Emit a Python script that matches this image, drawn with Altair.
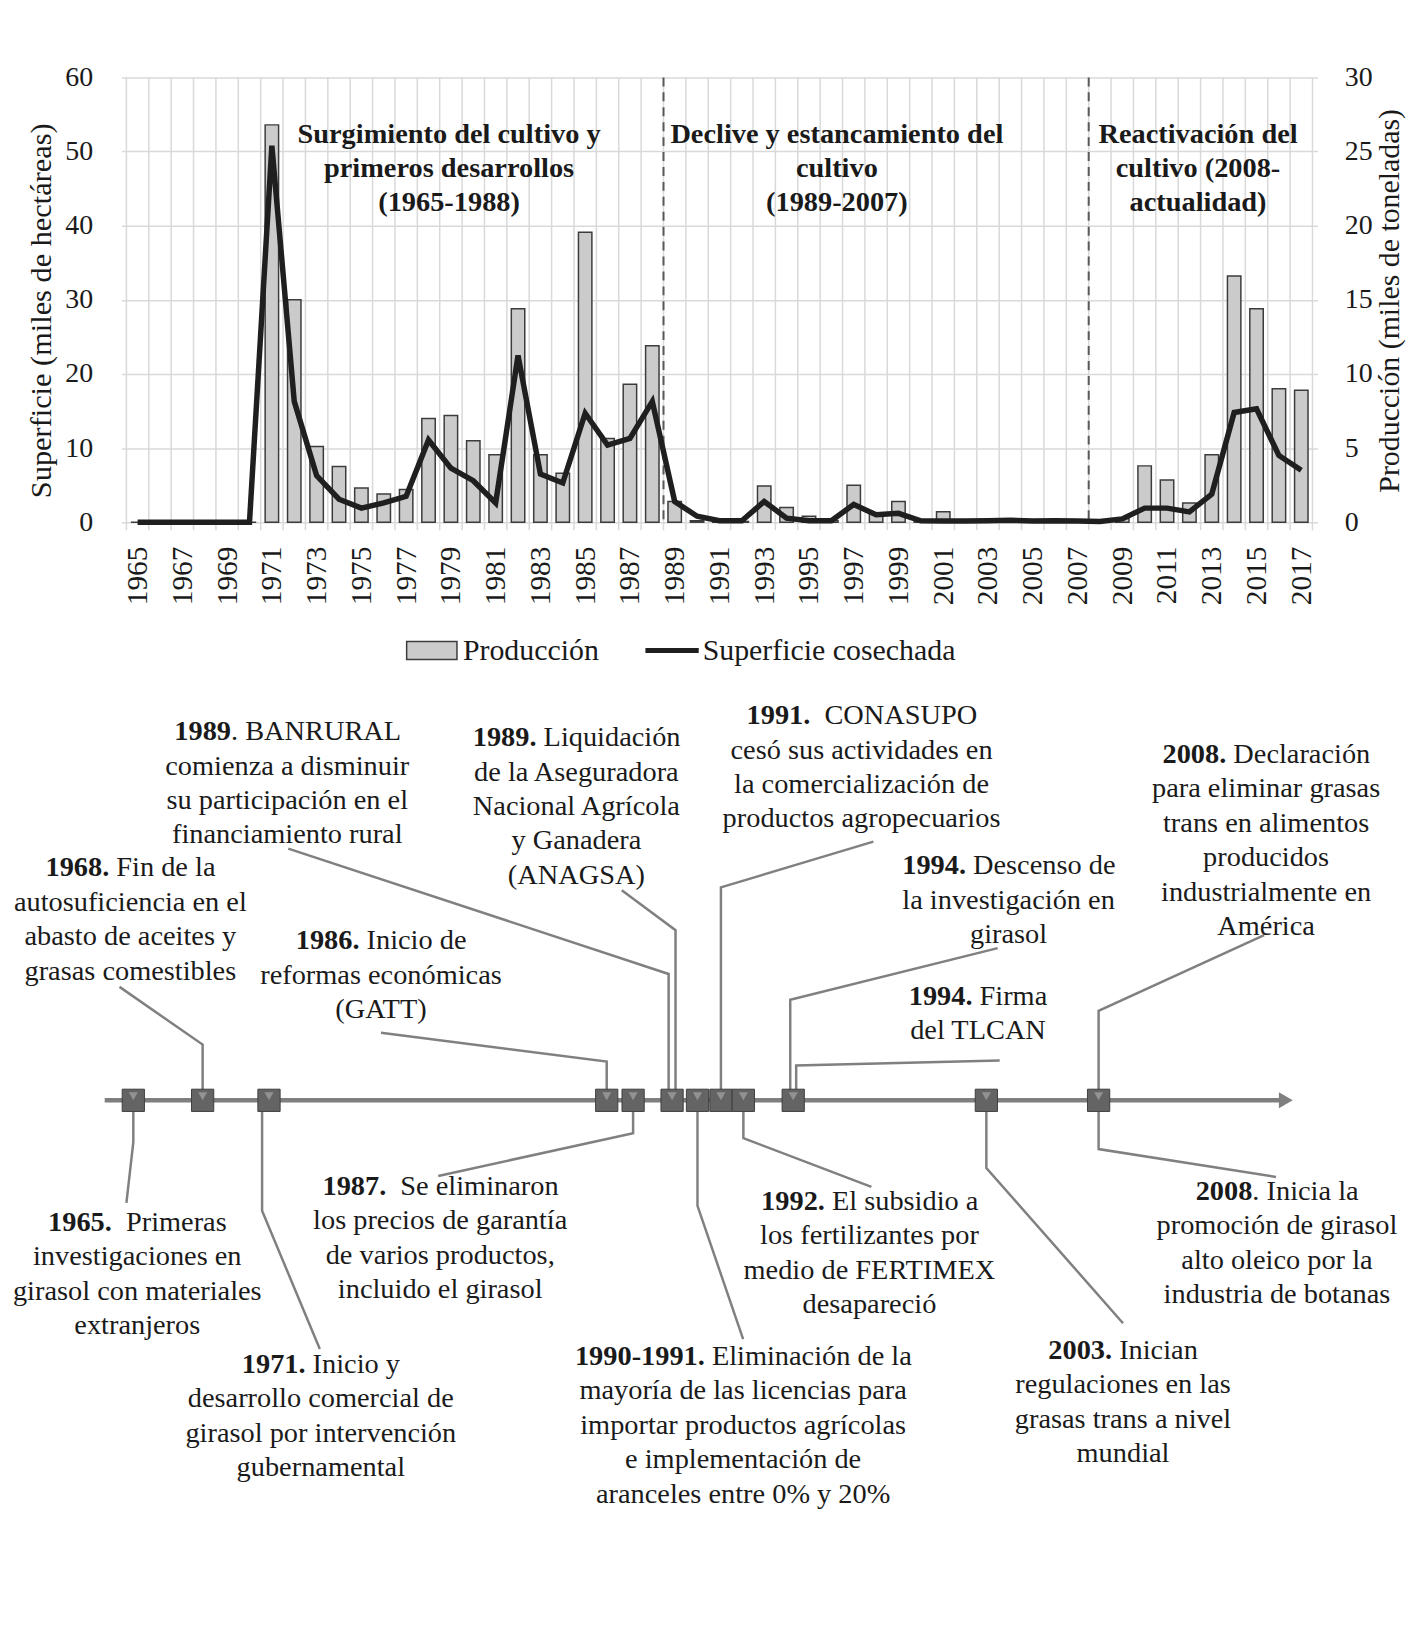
import altair as alt
import pandas as pd

# ---------------- data ----------------
years = list(range(1965, 2018))
# Producción (miles de toneladas) - right axis
produccion = [0, 0, 0, 0, 0, 0,
              26.8, 15.0, 5.1, 3.75, 2.3, 1.9, 2.2, 7.0, 7.2,
              5.5, 4.55, 14.4, 4.55, 3.3, 19.55, 5.65, 9.3, 11.9,
              1.4, 0.1, 0.02, 0.05, 2.45, 1.0, 0.4, 0.12, 2.5, 0.6, 1.4,
              0.1, 0.7, 0.05, 0.05, 0.2, 0.05, 0.05, 0.05, 0.0, 0.25,
              3.8, 2.85, 1.3, 4.55, 16.6, 14.4, 9.0, 8.9]
# Superficie cosechada (miles de hectáreas) - left axis
superficie = [0, 0, 0, 0, 0, 0,
              50.8, 16.3, 6.3, 3.1, 1.9, 2.6, 3.5, 11.1, 7.3,
              5.6, 2.6, 22.5, 6.5, 5.3, 14.7, 10.4, 11.3, 16.3,
              2.8, 0.8, 0.2, 0.2, 2.8, 0.55, 0.2, 0.2, 2.4, 1.0, 1.2,
              0.2, 0.15, 0.15, 0.2, 0.25, 0.15, 0.2, 0.15, 0.1, 0.45,
              1.9, 1.9, 1.4, 3.8, 14.8, 15.3, 9.0, 7.0]
period_bounds = [1988.5, 2007.5]
period_titles = [["Surgimiento del cultivo y", "primeros desarrollos", "(1965-1988)"],
                 ["Declive y estancamiento del", "cultivo", "(1989-2007)"],
                 ["Reactivación del", "cultivo (2008-", "actualidad)"]]
timeline_years = [1965, 1968, 1971, 1986, 1987, 1989, 1990, 1991, 1992, 1994, 2003, 2008]

# annotations: bold prefix, rest of first line, other lines
events = [
    ("1968.", " Fin de la", ["autosuficiencia en el", "abasto de aceites y", "grasas comestibles"]),
    ("1989", ". BANRURAL", ["comienza a disminuir", "su participación en el", "financiamiento rural"]),
    ("1989.", " Liquidación", ["de la Aseguradora", "Nacional Agrícola", "y Ganadera", "(ANAGSA)"]),
    ("1991.", "  CONASUPO", ["cesó sus actividades en", "la comercialización de", "productos agropecuarios"]),
    ("2008.", " Declaración", ["para eliminar grasas", "trans en alimentos", "producidos", "industrialmente en", "América"]),
    ("1994.", " Descenso de", ["la investigación en", "girasol"]),
    ("1986.", " Inicio de", ["reformas económicas", "(GATT)"]),
    ("1994.", " Firma", ["del TLCAN"]),
    ("1965.", "  Primeras", ["investigaciones en", "girasol con materiales", "extranjeros"]),
    ("1971.", " Inicio y", ["desarrollo comercial de", "girasol por intervención", "gubernamental"]),
    ("1987.", "  Se eliminaron", ["los precios de garantía", "de varios productos,", "incluido el girasol"]),
    ("1990-1991.", " Eliminación de la", ["mayoría de las licencias para", "importar productos agrícolas",
                                          "e implementación de", "aranceles entre 0% y 20%"]),
    ("1992.", " El subsidio a", ["los fertilizantes por", "medio de FERTIMEX", "desapareció"]),
    ("2003.", " Inician", ["regulaciones en las", "grasas trans a nivel", "mundial"]),
    ("2008", ". Inicia la", ["promoción de girasol", "alto oleico por la", "industria de botanas"]),
]

# ---------------- layout (page pixels) ----------------
PLOT_LEFT, PLOT_TOP, W, H = 122, 74, 1202, 447
PAGE_MARGIN = 8
STEP = W / len(years)
FONT = "Liberation Serif"
TXT = "#1a1a1a"
FS = 28.5
LH = 34.6

# centre x and first-line y of each annotation (same order as events)
event_pos = [(126, 868), (285, 731), (578, 737), (867, 715), (1277, 754), (1016, 866),
             (380, 941), (985, 997), (133, 1224), (319, 1367), (440, 1188), (747, 1359),
             (875, 1203), (1132, 1353), (1288, 1193)]
period_pos = [(449, 131), (842, 131), (1208, 131)]
PERIOD_LH = 34.0

# timeline geometry: first marker x, spacing per year, per-marker display nudges
TL_X0, TL_STEP = 129, 22.75
tl_nudge = [0, 2, 1, 2, 6, 0, 3, 4, 4, 9, 0, 0]
TL_Y = 1102
marker_px = {y: TL_X0 + (y - timeline_years[0]) * TL_STEP + n for y, n in zip(timeline_years, tl_nudge)}

# leader lines: (text end point, elbow y, marker year, side offset, above/below)
leader_spec = [
    ((115, 988), 1046, 1968, 0, "top"),
    ((286, 849), 975, 1989, -3.5, "top"),
    ((624, 891), 931, 1989, 3.5, "top"),
    ((879, 842), 888, 1991, 0, "top"),
    ((1275, 936), 1012, 2008, 0, "top"),
    ((1005, 949), 1001, 1994, -3, "top"),
    ((380, 1034), 1063, 1986, 0, "top"),
    ((1007, 1062), 1067, 1994, 3, "top"),
    ((122, 1205), 1144, 1965, 0, "bottom"),
    ((318, 1352), 1213, 1971, -7, "bottom"),
    ((438, 1178), 1135, 1987, 0, "bottom"),
    ((747, 1342), 1208, 1990, 0, "bottom"),
    ((877, 1189), 1140, 1992, 0, "bottom"),
    ((1132, 1326), 1170, 2003, 0, "bottom"),
    ((1287, 1179), 1151, 2008, 0, "bottom"),
]


def X(px):
    return 1964.5 + (px - PLOT_LEFT) / STEP


def V(py):
    return py - PLOT_TOP


TR = {' ': 250, '.': 250, ',': 250, '-': 333, '(': 333, ')': 333, '%': 833,
      'A': 722, 'B': 667, 'C': 667, 'D': 722, 'E': 611, 'F': 556, 'G': 722, 'H': 722, 'I': 333,
      'J': 389, 'K': 722, 'L': 611, 'M': 889, 'N': 722, 'O': 722, 'P': 556, 'Q': 722, 'R': 667,
      'S': 556, 'T': 611, 'U': 722, 'V': 722, 'W': 944, 'X': 722, 'Y': 722, 'Z': 611,
      'a': 444, 'b': 500, 'c': 444, 'd': 500, 'e': 444, 'f': 333, 'g': 500, 'h': 500, 'i': 278,
      'j': 278, 'k': 500, 'l': 278, 'm': 778, 'n': 500, 'o': 500, 'p': 500, 'q': 500, 'r': 333,
      's': 389, 't': 278, 'u': 500, 'v': 500, 'w': 722, 'x': 500, 'y': 500, 'z': 444,
      'á': 444, 'é': 444, 'í': 278, 'ó': 500, 'ú': 500, 'ñ': 500}
for d in "0123456789":
    TR[d] = 500


def tw(s, fs=FS):
    return sum(TR.get(c, 500) for c in s) * fs / 1000.0


# ---------------- build tables ----------------
df = pd.DataFrame({"year": years, "produccion": produccion, "superficie": superficie})
grid_df = pd.DataFrame({"b": [y - 0.5 for y in years] + [years[-1] + 0.5]})
period_df = pd.DataFrame({"p": period_bounds})

center_rows, bold_rows, left_rows = [], [], []
for (b, first, rest), (cx, y0) in zip(events, event_pos):
    wb, wr = tw(b), tw(first)
    split = cx - (wb + wr) / 2 + wb
    lead = len(first) - len(first.lstrip(" "))
    bold_rows.append({"x": X(split), "v": V(y0), "t": b})
    left_rows.append({"x": X(split + lead * 250 * FS / 1000.0), "v": V(y0), "t": first.lstrip(" ")})
    for i, line in enumerate(rest):
        center_rows.append({"x": X(cx), "v": V(y0 + (i + 1) * LH), "t": line})

period_rows = []
for lines, (cx, y0) in zip(period_titles, period_pos):
    for i, line in enumerate(lines):
        period_rows.append({"x": X(cx), "v": V(y0 + i * PERIOD_LH), "t": line})

leader_rows = []
for k, ((tx, ty), ey, yr, dx, side) in enumerate(leader_spec):
    mx = marker_px[yr] + dx
    if side == "top":
        pts = [(tx, ty), (mx, ey), (mx, TL_Y - 10)]
    else:
        pts = [(mx, TL_Y + 10), (mx, ey), (tx, ty)]
    for s, (px, py) in enumerate(pts):
        leader_rows.append({"id": k, "seq": s, "x": X(px), "v": V(py)})

axis_line_df = pd.DataFrame({"x": [X(100)], "x2": [X(1292)], "v": [V(TL_Y)]})
arrow_df = pd.DataFrame({"x": [X(1297)], "v": [V(TL_Y)]})
marker_df = pd.DataFrame({"x": [X(marker_px[y]) for y in timeline_years],
                          "v": [V(TL_Y)] * len(timeline_years)})
marker_hi_df = pd.DataFrame({"x": [X(marker_px[y]) for y in timeline_years],
                             "v": [V(TL_Y - 4)] * len(timeline_years)})

legend_rect_df = pd.DataFrame({"x": [X(406)], "x2": [X(457)], "v": [V(641)], "v2": [V(659)]})
legend_line_df = pd.DataFrame({"x": [X(648)], "x2": [X(702)], "v": [V(650)]})
legend_text_df = pd.DataFrame({"x": [X(463), X(706)], "v": [V(650), V(650)],
                               "t": ["Producción", "Superficie cosechada"]})

# ---------------- scales / axes ----------------
x_scale = alt.Scale(domain=[1964.5, 2017.5], nice=False, zero=False)
X_AXIS = alt.Axis(values=list(range(1965, 2018, 2)), labelAngle=270, labelFontSize=29.5,
                  labelFont=FONT, labelColor=TXT, labelPadding=24, domain=False, ticks=False,
                  grid=False, title=None, format="d", labelOverlap=False, labelFlush=False)
v_scale = alt.Scale(domain=[0, H], reverse=True, nice=False, zero=False)


def xe(field):
    return alt.X(f"{field}:Q", scale=x_scale, axis=X_AXIS)


def ve(field="v"):
    return alt.Y(f"{field}:Q", scale=v_scale, axis=None)


# L1 vertical grid
grid = alt.Chart(grid_df).mark_rule(color="#d9d9d9", strokeWidth=1.5).encode(
    x=xe("b"), y=alt.value(0), y2=alt.value(H + 8))

# L2 bars (right axis)
bars = alt.Chart(df).mark_bar(width=13.5, color="#cbcbcb", stroke="#3c3c3c", strokeWidth=1.5).encode(
    x=xe("year"),
    y=alt.Y("produccion:Q", scale=alt.Scale(domain=[0, 30], nice=False),
            axis=alt.Axis(orient="right", values=list(range(0, 31, 5)), grid=False, ticks=False,
                          domain=False, labelFontSize=28, labelFont=FONT, labelColor=TXT,
                          labelPadding=27, title="Producción (miles de toneladas)",
                          titleFontSize=30, titleFont=FONT, titleColor=TXT, titleFontWeight="normal",
                          titleAngle=270, titleX=72, titleY=224, titleAlign="center",
                          titleBaseline="middle")))

# L3 line (left axis) + period separators
line = alt.Chart(df).mark_line(color="#1f1f1f", strokeWidth=5.5).encode(
    x=xe("year"),
    y=alt.Y("superficie:Q", scale=alt.Scale(domain=[0, 60], nice=False),
            axis=alt.Axis(orient="left", values=list(range(0, 61, 10)), grid=True,
                          gridColor="#d9d9d9", gridWidth=1.5, ticks=False, domain=False,
                          labelFontSize=28, labelFont=FONT, labelColor=TXT, labelPadding=29,
                          title="Superficie (miles de hectáreas)", titleFontSize=30.5,
                          titleFont=FONT, titleColor=TXT, titleFontWeight="normal",
                          titleAngle=270, titleX=-80, titleY=234, titleAlign="center",
                          titleBaseline="middle")))
seps = alt.Chart(period_df).mark_rule(color="#595959", strokeDash=[9, 6], strokeWidth=2).encode(
    x=xe("p"), y=alt.value(0), y2=alt.value(H))
L3 = alt.layer(seps, line)

# L4 annotation / timeline layer (pixel-mapped y)
leader = alt.Chart(pd.DataFrame(leader_rows)).mark_line(color="#808080", strokeWidth=2.5).encode(
    x=xe("x"), y=ve(), detail="id:N", order=alt.Order("seq:Q"))
tl_axis = alt.Chart(axis_line_df).mark_rule(color="#7f7f7f", strokeWidth=4.5).encode(
    x=xe("x"), x2="x2:Q", y=ve())
arrow = alt.Chart(arrow_df).mark_point(shape="triangle-right", filled=True, size=260,
                                       color="#7f7f7f", opacity=1).encode(x=xe("x"), y=ve())
markers = alt.Chart(marker_df).mark_square(size=500, color="#646464", stroke="#404040",
                                           strokeWidth=1, opacity=1).encode(x=xe("x"), y=ve())
markers_hi = alt.Chart(marker_hi_df).mark_point(shape="triangle-down", filled=True, size=85,
                                                color="#979797", opacity=0.9).encode(x=xe("x"), y=ve())

txt_center = alt.Chart(pd.DataFrame(center_rows)).mark_text(
    font=FONT, fontSize=FS, color=TXT, align="center", baseline="middle").encode(
    x=xe("x"), y=ve(), text="t:N")
txt_bold = alt.Chart(pd.DataFrame(bold_rows)).mark_text(
    font=FONT, fontSize=FS, color=TXT, align="right", baseline="middle", fontWeight="bold").encode(
    x=xe("x"), y=ve(), text="t:N")
txt_left = alt.Chart(pd.DataFrame(left_rows)).mark_text(
    font=FONT, fontSize=FS, color=TXT, align="left", baseline="middle").encode(
    x=xe("x"), y=ve(), text="t:N")
txt_period = alt.Chart(pd.DataFrame(period_rows)).mark_text(
    font=FONT, fontSize=28.5, color=TXT, align="center", baseline="middle", fontWeight="bold").encode(
    x=xe("x"), y=ve(), text="t:N")

leg_rect = alt.Chart(legend_rect_df).mark_rect(color="#cbcbcb", stroke="#3c3c3c", strokeWidth=1.5).encode(
    x=xe("x"), x2="x2:Q", y=ve(), y2="v2:Q")
leg_line = alt.Chart(legend_line_df).mark_rule(color="#1f1f1f", strokeWidth=5).encode(
    x=xe("x"), x2="x2:Q", y=ve())
leg_text = alt.Chart(legend_text_df).mark_text(
    font=FONT, fontSize=30, color=TXT, align="left", baseline="middle").encode(
    x=xe("x"), y=ve(), text="t:N")

L4 = alt.layer(leader, tl_axis, arrow, markers, markers_hi, txt_center, txt_bold, txt_left,
               txt_period, leg_rect, leg_line, leg_text)

PAD_LEFT = PLOT_LEFT - PAGE_MARGIN
PAD_TOP = PLOT_TOP - PAGE_MARGIN
chart = alt.layer(grid, bars, L3, L4).resolve_scale(y="independent").properties(
    width=W, height=H,
    autosize=alt.AutoSizeParams(type="none"),
    padding={"left": PAD_LEFT, "top": PAD_TOP, "right": 1408 - PAD_LEFT - W, "bottom": 1000}
).configure_view(stroke=None)

chart.save("out.html", embed_options={"renderer": "svg", "actions": False})
